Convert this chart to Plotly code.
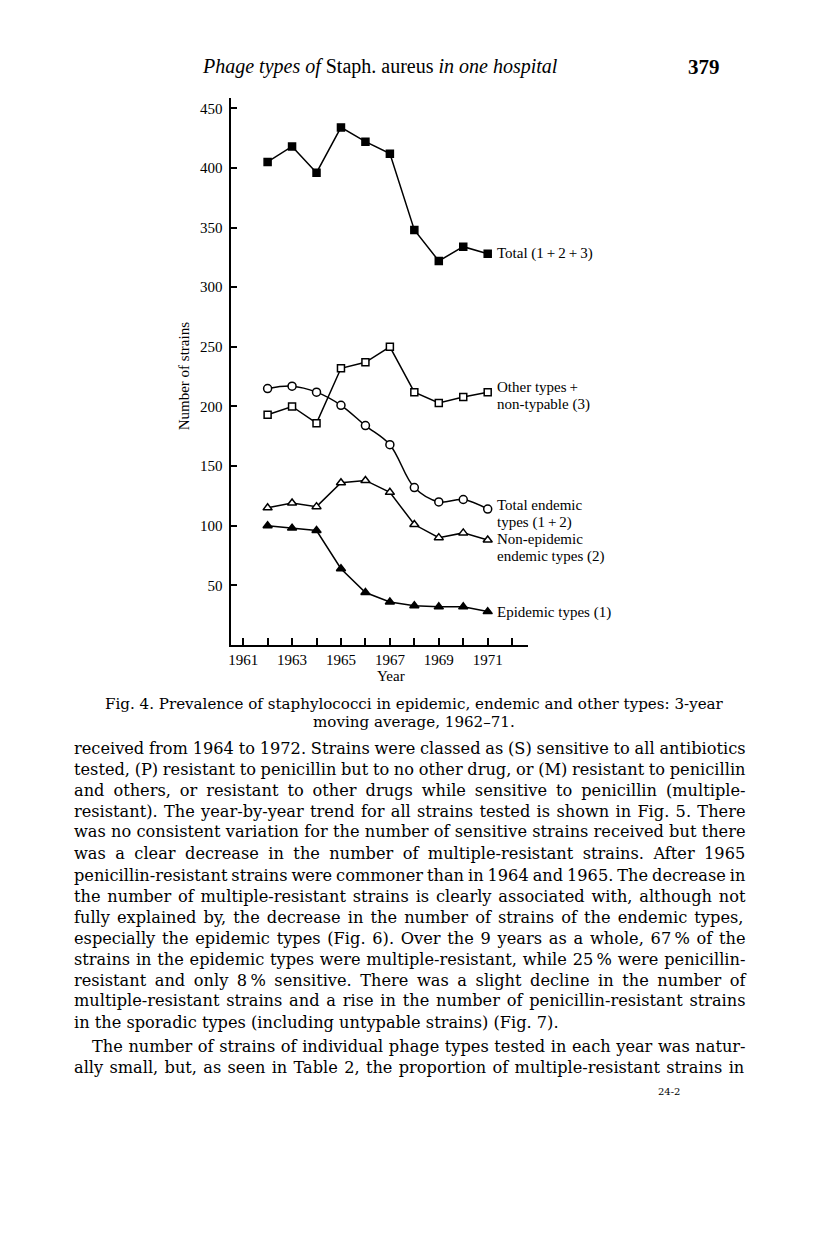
import glob
import struct

import plotly.graph_objects as go

W, H = 816, 1234
PAD = 8  # default body margin of the html page
SERIF = "Liberation Serif"
BODY_FONT = "DejaVu Serif"

years = list(range(1962, 1972))
total = [405, 418, 396, 434, 422, 412, 348, 322, 334, 328]
other_types = [193, 200, 186, 232, 237, 250, 212, 203, 208, 212]
endemic_total = [215, 217, 212, 201, 184, 168, 132, 120, 122, 114]
non_epidemic = [115, 119, 116, 136, 138, 128, 101, 90, 94, 88]
epidemic = [100, 98, 96, 64, 44, 36, 33, 32, 32, 28]

y_ticks = [50, 100, 150, 200, 250, 300, 350, 400, 450]
x_ticks = list(range(1961, 1973))
x_labels = ["1961", "", "1963", "", "1965", "", "1967", "", "1969", "", "1971", ""]

series_labels = [
    ("Total (1\u2009+\u20092\u2009+\u20093)", 254),
    ("Other types\u2009+", 387),
    ("non-typable (3)", 404),
    ("Total endemic", 505),
    ("types (1\u2009+\u20092)", 522),
    ("Non-epidemic", 539),
    ("endemic types (2)", 556),
    ("Epidemic types (1)", 612),
]

caption = [
    "Fig. 4. Prevalence of staphylococci in epidemic, endemic and other types: 3-year",
    "moving average, 1962\u201371.",
]

body = [
    "received from 1964 to 1972. Strains were classed as (S) sensitive to all antibiotics",
    "tested, (P) resistant to penicillin but to no other drug, or (M) resistant to penicillin",
    "and others, or resistant to other drugs while sensitive to penicillin (multiple-",
    "resistant). The year-by-year trend for all strains tested is shown in Fig. 5. There",
    "was no consistent variation for the number of sensitive strains received but there",
    "was a clear decrease in the number of multiple-resistant strains. After 1965",
    "penicillin-resistant strains were commoner than in 1964 and 1965. The decrease in",
    "the number of multiple-resistant strains is clearly associated with, although not",
    "fully explained by, the decrease in the number of strains of the endemic types,",
    "especially the epidemic types (Fig. 6). Over the 9 years as a whole, 67\u2009% of the",
    "strains in the epidemic types were multiple-resistant, while 25\u2009% were penicillin-",
    "resistant and only 8\u2009% sensitive. There was a slight decline in the number of",
    "multiple-resistant strains and a rise in the number of penicillin-resistant strains",
    "in the sporadic types (including untypable strains) (Fig. 7).",
    "The number of strains of individual phage types tested in each year was natur-",
    "ally small, but, as seen in Table 2, the proportion of multiple-resistant strains in",
]


def font_measure(name):
    # advance widths straight from the ttf, used to justify the body text
    paths = glob.glob("/usr/share/fonts/**/" + name, recursive=True)
    if not paths:
        return None
    data = open(paths[0], "rb").read()
    n = struct.unpack(">H", data[4:6])[0]
    tables = {}
    for i in range(n):
        tag, _, off, _ = struct.unpack(">4sIII", data[12 + 16 * i:28 + 16 * i])
        tables[tag.decode("latin1")] = off
    upem = struct.unpack(">H", data[tables["head"] + 18:tables["head"] + 20])[0]
    nh = struct.unpack(">H", data[tables["hhea"] + 34:tables["hhea"] + 36])[0]
    hm = tables["hmtx"]
    adv = [struct.unpack(">H", data[hm + 4 * i:hm + 4 * i + 2])[0] for i in range(nh)]
    cm = tables["cmap"]
    sub = None
    for i in range(struct.unpack(">H", data[cm + 2:cm + 4])[0]):
        pid, eid, off = struct.unpack(">HHI", data[cm + 4 + 8 * i:cm + 12 + 8 * i])
        if pid == 3 and eid == 1:
            sub = cm + off
    if sub is None or struct.unpack(">H", data[sub:sub + 2])[0] != 4:
        return None
    s2 = struct.unpack(">H", data[sub + 6:sub + 8])[0]
    seg = s2 // 2
    ends = struct.unpack(">%dH" % seg, data[sub + 14:sub + 14 + s2])
    o = sub + 16 + s2
    starts = struct.unpack(">%dH" % seg, data[o:o + s2])
    deltas = struct.unpack(">%dh" % seg, data[o + s2:o + 2 * s2])
    ro = o + 2 * s2
    ros = struct.unpack(">%dH" % seg, data[ro:ro + s2])

    def glyph(c):
        code = ord(c)
        for i in range(seg):
            if starts[i] <= code <= ends[i]:
                if ros[i] == 0:
                    return (code + deltas[i]) & 0xFFFF
                a = ro + 2 * i + ros[i] + 2 * (code - starts[i])
                g = struct.unpack(">H", data[a:a + 2])[0]
                return (g + deltas[i]) & 0xFFFF if g else 0
        return 0

    def width(s, size):
        return sum(adv[min(glyph(c), nh - 1)] for c in s) * size / upem

    return width


def px(x):
    return (x - PAD) / (W - 2 * PAD)


def py(y):
    return 1 - (y - PAD) / (H - 2 * PAD)


fig = go.Figure()

# (values, marker symbol, fill, size, line shape)
traces = [
    (total, "square", "black", 7, "linear"),
    (other_types, "square", "white", 7, "linear"),
    (endemic_total, "circle", "white", 8, "spline"),
    (non_epidemic, "triangle-up", "white", 8, "linear"),
    (epidemic, "triangle-up", "black", 8, "linear"),
]
for vals, symbol, fill, size, shape in traces:
    fig.add_trace(go.Scatter(
        x=years, y=vals, mode="lines+markers",
        line=dict(color="black", width=1.5, shape=shape, smoothing=1),
        marker=dict(symbol=symbol, size=size, color=fill,
                    line=dict(color="black", width=1.5)),
        cliponaxis=False,
    ))

axis_font = dict(family=SERIF, size=15, color="black")
fig.update_xaxes(
    domain=[px(229), px(527)], range=[1960.51, 1972.65],
    tickvals=x_ticks, ticktext=x_labels, ticks="inside", ticklen=7,
    tickwidth=1.5, tickcolor="black", showline=True, linewidth=1.5,
    linecolor="black", showgrid=False, zeroline=False, tickfont=axis_font,
)
fig.update_yaxes(
    domain=[py(645), py(97.7)], range=[0, 458.9],
    tickvals=y_ticks, ticks="inside", ticklen=6, tickwidth=1.5,
    tickcolor="black", showline=True, linewidth=1.5, linecolor="black",
    showgrid=False, zeroline=False, tickfont=axis_font, ticklabelstandoff=4,
)

ann = []


def text(x, y, s, size, anchor="left", angle=0, family=SERIF):
    ann.append(dict(x=px(x), y=py(y), xref="paper", yref="paper", text=s,
                    showarrow=False, xanchor=anchor, yanchor="middle",
                    textangle=angle, font=dict(family=family, size=size, color="black")))


text(182, 376, "Number of strains", 15, anchor="center", angle=-90)
text(389, 676, "Year", 15, anchor="center")
for label, y in series_labels:
    text(494, y, label, 15)

text(378, 67, "<i>Phage types of</i> Staph. aureus <i>in one hospital</i>", 20, anchor="center")
text(722, 67, "<b>379</b>", 21, anchor="right")

text(413, 704, caption[0], 15.1, anchor="center", family=BODY_FONT)
text(413, 722, caption[1], 15.1, anchor="center", family=BODY_FONT)

BODY_SIZE = 16.2
measure = font_measure("DejaVuSerif.ttf")
line_y = [748, 769, 790, 811, 832, 853, 875, 896, 917, 938, 959, 980, 1001, 1022, 1046, 1067]
for i, (s, y) in enumerate(zip(body, line_y)):
    x0 = 87 if i == 14 else 69
    label = s
    if measure and i != 13:
        gap = (741 - x0 - measure(s, BODY_SIZE)) / s.count(" ")
        label = '<span style="word-spacing:%.2fpx">%s</span>' % (gap, s)
    text(x0, y, label, BODY_SIZE, family=BODY_FONT)

text(668, 1091, "24-2", 10, anchor="center", family=BODY_FONT)

fig.update_layout(
    width=W - 2 * PAD, height=H - 2 * PAD, margin=dict(l=0, r=0, t=0, b=0),
    paper_bgcolor="white", plot_bgcolor="white", showlegend=False,
    annotations=ann,
)

fig.write_html("out.html")
